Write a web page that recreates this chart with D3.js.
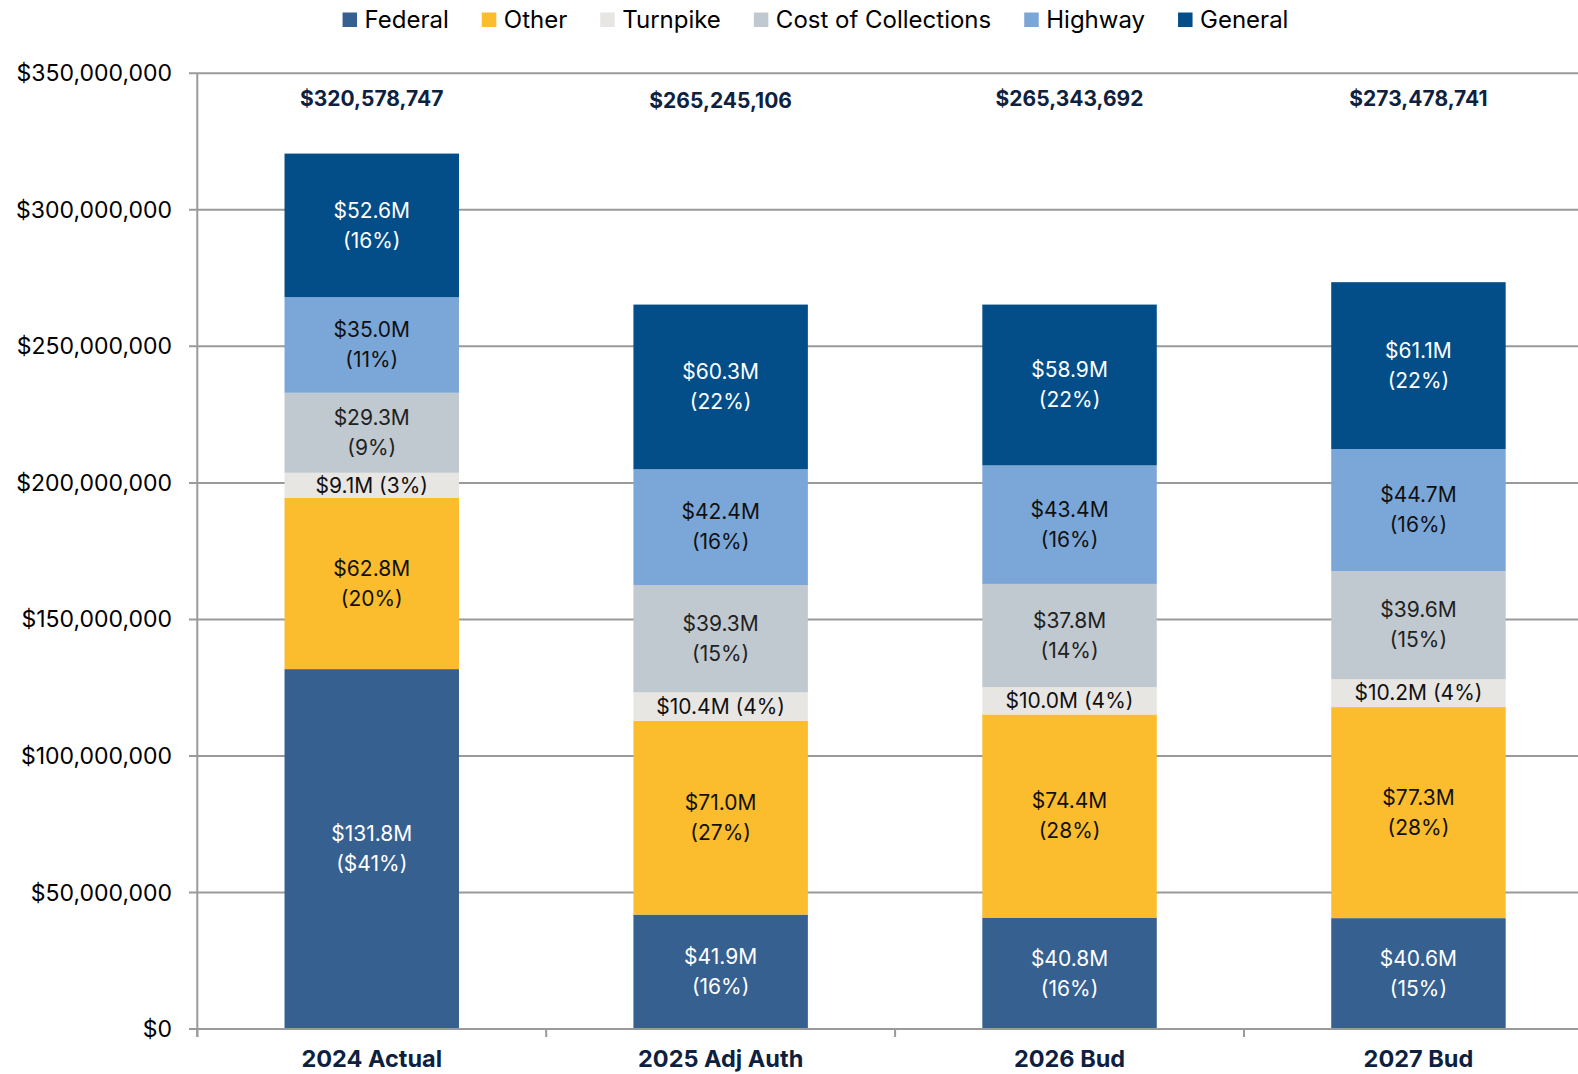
<!DOCTYPE html>
<html>
<head>
<meta charset="utf-8">
<script src="https://cdn.jsdelivr.net/npm/d3@7"></script>
<style>
  body { margin: 0; background: #fff; }
  text { font-family: "Inter", "Open Sans", sans-serif; }
</style>
</head>
<body>
<div class="chart"></div>
<script>
const width = 1578;
const height = 1074;

// data (millions)
const categories = ["2024 Actual", "2025 Adj Auth", "2026 Bud", "2027 Bud"];
const series = ["Federal", "Other", "Turnpike", "Cost of Collections", "Highway", "General"];
const federal  = [131.8, 41.9, 40.8, 40.6];
const other    = [62.8, 71.0, 74.4, 77.3];
const turnpike = [9.1, 10.4, 10.0, 10.2];
const cost     = [29.3, 39.3, 37.8, 39.6];
const highway  = [35.0, 42.4, 43.4, 44.7];
const general  = [52.6, 60.3, 58.9, 61.1];
const federalPct  = ["($41%)", "(16%)", "(16%)", "(15%)"];
const otherPct    = ["(20%)", "(27%)", "(28%)", "(28%)"];
const turnpikePct = ["(3%)", "(4%)", "(4%)", "(4%)"];
const costPct     = ["(9%)", "(15%)", "(14%)", "(15%)"];
const highwayPct  = ["(11%)", "(16%)", "(16%)", "(16%)"];
const generalPct  = ["(16%)", "(22%)", "(22%)", "(22%)"];
const totals = ["$320,578,747", "$265,245,106", "$265,343,692", "$273,478,741"];
const yTicks = [0, 50e6, 100e6, 150e6, 200e6, 250e6, 300e6, 350e6];

const colors = ["#36608f", "#fbbc2d", "#e8e6e3", "#c0c8d0", "#7ba6d8", "#034e88"];
const textColors = ["#fff", "#111", "#111", "#222", "#111", "#fff"];

const values = [federal, other, turnpike, cost, highway, general];
const pcts = [federalPct, otherPct, turnpikePct, costPct, highwayPct, generalPct];

const table = categories.map((c, i) => {
    const row = {cat: c, total: totals[i]};
    series.forEach((s, k) => { row[s] = values[k][i] * 1e6; });
    return row;
});

const svg = d3.select(".chart")
    .append("svg")
    .attr("width", width)
    .attr("height", height);

const x = d3.scaleBand()
    .domain(categories)
    .range([197.3, 1592.9])
    .paddingInner(0.5)
    .paddingOuter(0.25);

const y = d3.scaleLinear()
    .domain([0, 350e6])
    .range([1029, 73.3]);

// gridlines
svg.append("g")
    .selectAll("line")
    .data(yTicks)
    .join("line")
    .attr("x1", 189)
    .attr("x2", width)
    .attr("y1", d => y(d))
    .attr("y2", d => y(d))
    .attr("stroke", "#9a9a9a")
    .attr("stroke-width", 2);

// y axis labels
svg.append("g")
    .selectAll("text")
    .data(yTicks)
    .join("text")
    .attr("x", 172)
    .attr("y", d => y(d))
    .attr("dy", "0.35em")
    .attr("text-anchor", "end")
    .attr("font-size", 23)
    .attr("fill", "#000")
    .text(d => "$" + d3.format(",")(d));

// vertical axis line
svg.append("line")
    .attr("x1", 197.3).attr("x2", 197.3)
    .attr("y1", y(350e6)).attr("y2", 1037)
    .attr("stroke", "#9a9a9a")
    .attr("stroke-width", 2);

// x ticks at band boundaries
const step = x.step();
svg.append("g")
    .selectAll("line")
    .data(d3.range(categories.length))
    .join("line")
    .attr("x1", i => 197.3 + i * step)
    .attr("x2", i => 197.3 + i * step)
    .attr("y1", 1029)
    .attr("y2", 1037)
    .attr("stroke", "#9a9a9a")
    .attr("stroke-width", 2);

const stacked = d3.stack().keys(series)(table);

const layer = svg.append("g")
    .selectAll("g")
    .data(stacked)
    .join("g")
    .attr("fill", (d, k) => colors[k]);

layer.selectAll("rect")
    .data(d => d)
    .join("rect")
    .attr("x", d => x(d.data.cat))
    .attr("width", x.bandwidth())
    .attr("y", d => y(d[1]))
    .attr("height", d => y(d[0]) - y(d[1]));

// baseline drawn over bars
svg.append("line")
    .attr("x1", 189).attr("x2", width)
    .attr("y1", y(0)).attr("y2", y(0))
    .attr("stroke", "#9a9a9a")
    .attr("stroke-width", 2);

// segment labels
stacked.forEach((s, k) => {
    s.forEach((d, i) => {
        const cx = x(d.data.cat) + x.bandwidth() / 2;
        const cy = (y(d[0]) + y(d[1])) / 2;
        const money = "$" + values[k][i].toFixed(1) + "M";
        const g = svg.append("text")
            .attr("x", cx)
            .attr("text-anchor", "middle")
            .attr("font-size", 21)
            .attr("fill", textColors[k]);
        if (y(d[0]) - y(d[1]) < 40) {
            g.attr("y", cy).attr("dy", "0.35em").text(money + " " + pcts[k][i]);
        } else {
            g.append("tspan").attr("x", cx).attr("y", cy - 15).attr("dy", "0.35em").text(money);
            g.append("tspan").attr("x", cx).attr("y", cy + 15).attr("dy", "0.35em").text(pcts[k][i]);
        }
    });
});

// totals
svg.append("g")
    .selectAll("text")
    .data(table)
    .join("text")
    .attr("x", d => x(d.cat) + x.bandwidth() / 2)
    .attr("y", (d, i) => i === 1 ? 100.6 : 98.6)
    .attr("dy", "0.35em")
    .attr("text-anchor", "middle")
    .attr("font-size", 21)
    .attr("font-weight", "bold")
    .attr("fill", "#0e2240")
    .text(d => d.total);

// category labels
svg.append("g")
    .selectAll("text")
    .data(categories)
    .join("text")
    .attr("x", d => x(d) + x.bandwidth() / 2)
    .attr("y", 1059)
    .attr("dy", "0.35em")
    .attr("text-anchor", "middle")
    .attr("font-size", 23.5)
    .attr("font-weight", "bold")
    .attr("fill", "#0e1f3f")
    .text(d => d);

// legend
const legend = svg.append("g");
let lx = 0;
series.forEach((s, k) => {
    const item = legend.append("g").attr("transform", `translate(${lx},0)`);
    item.append("rect")
        .attr("x", 0).attr("y", 12.5)
        .attr("width", 14.5).attr("height", 14.5)
        .attr("fill", colors[k]);
    const t = item.append("text")
        .attr("x", 22).attr("y", 19.5)
        .attr("dy", "0.35em")
        .attr("font-size", 24)
        .attr("fill", "#000")
        .text(s);
    lx += 22 + t.node().getComputedTextLength() + 33;
});
const lw = lx - 33;
legend.attr("transform", `translate(${(340 + 1291) / 2 - lw / 2},0)`);
</script>
</body>
</html>
